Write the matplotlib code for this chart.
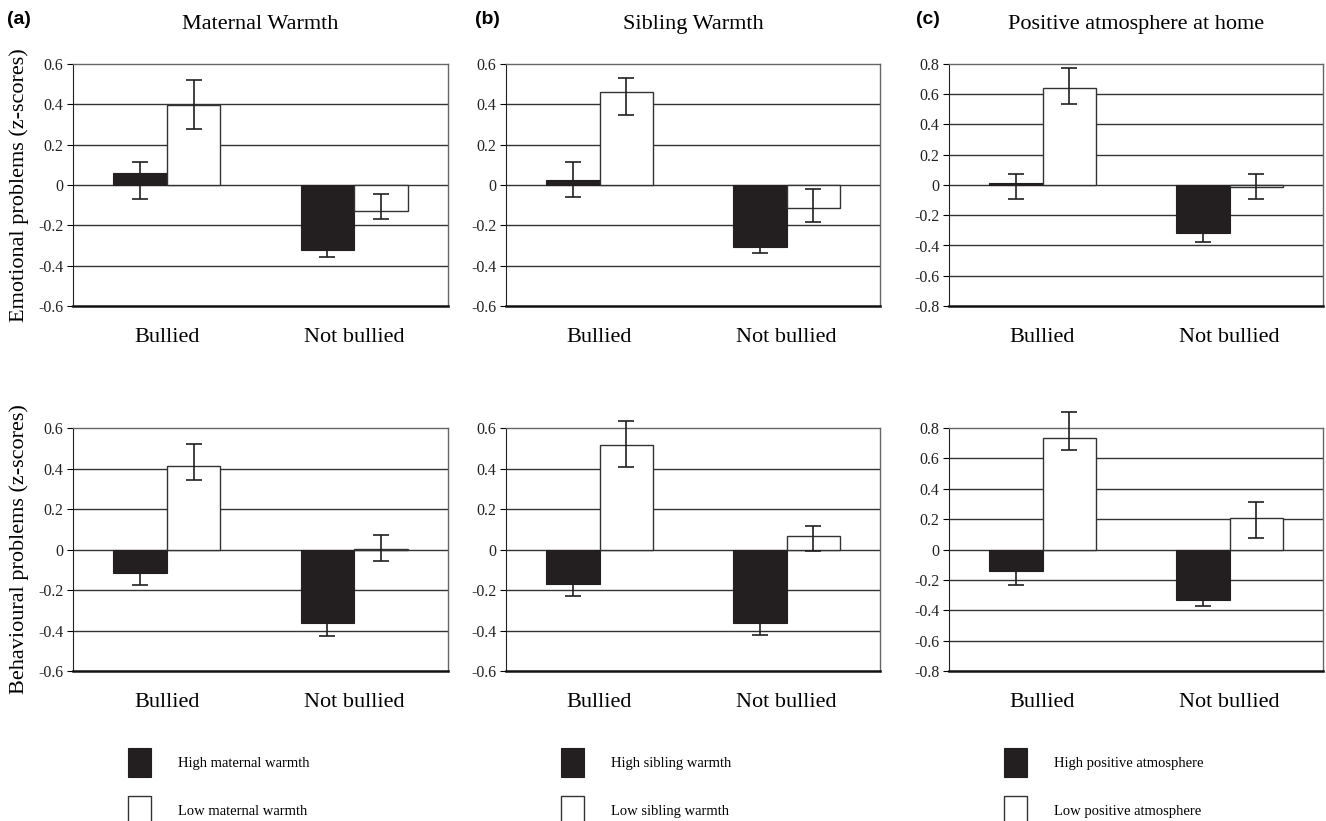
import matplotlib
matplotlib.use("Agg")
import matplotlib.pyplot as plt
import numpy as np

plt.rcParams["font.family"] = ["Liberation Serif", "DejaVu Serif"]
plt.rcParams["axes.unicode_minus"] = False

groups = ["Bullied", "Not bullied"]
letters = ["(a)", "(b)", "(c)"]
titles = ["Maternal Warmth", "Sibling Warmth", "Positive atmosphere at home"]
row_labels = ["Emotional problems (z-scores)", "Behavioural problems (z-scores)"]
high_labels = ["High maternal warmth", "High sibling warmth", "High positive atmosphere"]
low_labels = ["Low maternal warmth", "Low sibling warmth", "Low positive atmosphere"]
y_max = [0.6, 0.6, 0.8]

# emotional problems: means and error bar ends (low, high)
emo_high = [[0.06, -0.32], [0.023, -0.309], [0.015, -0.315]]
emo_high_lo = [[-0.067, -0.357], [-0.060, -0.339], [-0.093, -0.379]]
emo_high_hi = [[0.113, -0.28], [0.112, -0.28], [0.075, -0.25]]
emo_low = [[0.395, -0.13], [0.463, -0.114], [0.641, -0.012]]
emo_low_lo = [[0.279, -0.167], [0.347, -0.182], [0.533, -0.090]]
emo_low_hi = [[0.522, -0.047], [0.529, -0.018], [0.771, 0.071]]

# behavioural problems
beh_high = [[-0.114, -0.363], [-0.170, -0.363], [-0.141, -0.330]]
beh_high_lo = [[-0.173, -0.428], [-0.231, -0.421], [-0.231, -0.374]]
beh_high_hi = [[-0.06, -0.30], [-0.11, -0.30], [-0.08, -0.29]]
beh_low = [[0.414, 0.003], [0.515, 0.066], [0.731, 0.205]]
beh_low_lo = [[0.342, -0.058], [0.406, -0.008], [0.654, 0.077]]
beh_low_hi = [[0.522, 0.074], [0.637, 0.117], [0.904, 0.310]]

rows = [
    (emo_high, emo_high_lo, emo_high_hi, emo_low, emo_low_lo, emo_low_hi),
    (beh_high, beh_high_lo, beh_high_hi, beh_low, beh_low_lo, beh_low_hi),
]

W, H = 1326, 821
fig = plt.figure(figsize=(W / 100, H / 100), dpi=100)

col_left = [73, 506, 949]
col_width = [375, 374, 374]
row_top = [64, 428]
row_height = [242, 243]
letter_x = [7, 475, 916]

bar_w = 0.286
x = np.arange(len(groups))

for c in range(3):
    for r in range(2):
        hi_m, hi_lo, hi_hi, lo_m, lo_lo, lo_hi = [np.array(a[c]) for a in rows[r]]
        ax = fig.add_axes([col_left[c] / W, 1 - (row_top[r] + row_height[r]) / H,
                           col_width[c] / W, row_height[r] / H])
        b1 = ax.bar(x - bar_w / 2, hi_m, bar_w, color="#231f20", edgecolor="#231f20",
                    linewidth=0.8, zorder=2, label=high_labels[c])
        b2 = ax.bar(x + bar_w / 2, lo_m, bar_w, color="white", edgecolor="#333333",
                    linewidth=1.0, zorder=2, label=low_labels[c])
        ax.errorbar(x - bar_w / 2, hi_m, yerr=[hi_m - hi_lo, hi_hi - hi_m], fmt="none",
                    ecolor="#231f20", elinewidth=1.2, capsize=6, capthick=1.2,
                    zorder=3, clip_on=False)
        ax.errorbar(x + bar_w / 2, lo_m, yerr=[lo_m - lo_lo, lo_hi - lo_m], fmt="none",
                    ecolor="#231f20", elinewidth=1.2, capsize=6, capthick=1.2,
                    zorder=3, clip_on=False)

        ym = y_max[c]
        ticks = np.round(np.arange(-ym, ym + 0.001, 0.2), 1)
        ax.set_ylim(-ym, ym)
        ax.set_xlim(-0.5, 1.5)
        ax.set_yticks(ticks)
        ax.set_yticklabels(["0" if t == 0 else f"{t:.1f}" for t in ticks], fontsize=11.5,
                           color="#222222")
        for t in ticks[1:-1]:
            ax.axhline(t, color="#333333", linewidth=1.0, zorder=1)
        ax.set_xticks(x)
        ax.set_xticklabels(groups, fontsize=16)
        ax.tick_params(axis="x", length=0, pad=16)
        ax.tick_params(axis="y", length=4, width=0.8, pad=3)
        for s in ["top", "right"]:
            ax.spines[s].set_color("#666666")
            ax.spines[s].set_linewidth(1.0)
        ax.spines["left"].set_color("#222222")
        ax.spines["bottom"].set_color("#111111")
        ax.spines["bottom"].set_linewidth(1.8)

        if c == 0:
            ax.set_ylabel(row_labels[r], fontsize=16)
            ax.yaxis.set_label_coords(-0.118, 0.5)
        if r == 0:
            ax.set_title(titles[c], fontsize=16, pad=25)
            fig.text(letter_x[c] / W, 1 - 20 / H, letters[c], fontsize=14,
                     fontweight="bold", family="Liberation Sans", ha="left", va="center")
        else:
            fig.legend(handles=[b1, b2], loc="upper left",
                       bbox_to_anchor=((col_left[c] + 55) / W, 1 - 748 / H),
                       frameon=False, fontsize=10.5, handlelength=1.6, handleheight=2.7,
                       handletextpad=1.8, labelspacing=1.3, borderpad=0, borderaxespad=0)

fig.savefig("out.png", dpi=100)
